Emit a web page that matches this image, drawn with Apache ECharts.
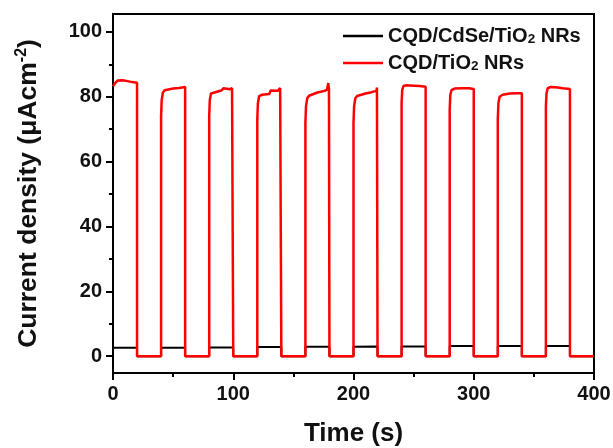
<!DOCTYPE html>
<html>
<head>
<meta charset="utf-8">
<script src="https://cdn.jsdelivr.net/npm/echarts@6/dist/echarts.min.js"></script>
<style>
  html, body { margin: 0; padding: 0; background: #fff; }
  #chart { width: 613px; height: 448px; }
</style>
</head>
<body>
<div id="chart"></div>
<script>
// series names (legend text)
var nameCdSe = 'CQD/CdSe/TiO2 NRs';
var nameTiO2 = 'CQD/TiO2 NRs';

// tick labels
var xTicks = [0, 100, 200, 300, 400];
var yTicks = [0, 20, 40, 60, 80, 100];
var yMinorTicks = [10, 30, 50, 70, 90];

// CQD/CdSe/TiO2 NRs : [time (s), current density]
var cdseData = [
  [0, 2.6], [20, 2.6], [20, 0], [40, 0],
  [40, 2.6], [60, 2.6], [60, 0], [80, 0],
  [80, 2.7], [100, 2.7], [100, 0], [120, 0],
  [120, 2.8], [140, 2.8], [140, 0], [160, 0],
  [160, 2.9], [180, 2.9], [180, 0], [200, 0],
  [200, 2.9], [220, 3.0], [220, 0], [240, 0],
  [240, 3.0], [260, 3.0], [260, 0], [280, 0],
  [280, 3.1], [300, 3.1], [300, 0], [320, 0],
  [320, 3.1], [340, 3.1], [340, 0], [360, 0],
  [360, 3.1], [380, 3.1], [380, 0], [400, 0]
];

// CQD/TiO2 NRs : [time (s), current density]
var tio2Data = [
  [0, 83.2], [2, 84.3], [4, 85.0], [8, 85.1], [12, 84.8], [16, 84.5], [20, 84.3], [20, 0],
  [40, 0], [40, 74], [40.5, 79], [41.5, 81.3], [43, 82.0], [50, 82.5], [55, 82.7], [60, 83.0], [60, 0],
  [80, 0], [80, 74], [80.5, 79], [81.5, 81.0], [83, 81.6], [90, 81.9], [92, 82.6], [93, 82.2], [97, 82.3], [99, 82.6], [100, 82.4], [100, 0],
  [120, 0], [120, 73], [120.5, 78], [121.5, 80.2], [124, 80.6], [130, 80.8], [131, 81.9], [132, 81.6], [137, 81.8], [139, 82.7], [140, 82.2], [140, 0],
  [160, 0], [160, 72], [160.5, 77], [161.5, 79.5], [163, 80.3], [170, 81.3], [176, 81.8], [178, 82.2], [179, 84.2], [179.6, 82.3], [180, 82.5], [180, 0],
  [200, 0], [200, 72], [200.5, 77], [201.5, 79.5], [203, 80.2], [210, 81.0], [215, 81.4], [219, 81.8], [219.5, 82.8], [220, 82.2], [220, 0],
  [240, 0], [240, 78], [240.5, 82], [241.5, 83.3], [244, 83.5], [250, 83.4], [255, 83.3], [260, 83.1], [260, 0],
  [280, 0], [280, 76], [280.5, 80.5], [281.5, 82.0], [284, 82.5], [290, 82.6], [296, 82.6], [300, 82.4], [300, 0],
  [320, 0], [320, 73], [320.5, 78], [321.5, 80.0], [324, 80.6], [330, 81.0], [336, 81.1], [340, 81.1], [340, 0],
  [360, 0], [360, 77], [360.5, 81], [361.5, 82.6], [364, 83.0], [368, 82.9], [374, 82.6], [380, 82.4], [380, 0],
  [400, 0]
];

var font = 'Liberation Sans';
var chart = echarts.init(document.getElementById('chart'));

var option = {
  animation: false,
  grid: {
    left: 113, right: 19, top: 14, bottom: 75,
    outerBoundsMode: 'none',
    show: true, borderColor: '#000', borderWidth: 2
  },
  legend: {
    orient: 'vertical',
    left: 338, top: 21,
    icon: 'rect',
    itemWidth: 40, itemHeight: 2.5, itemGap: 7,
    data: [nameCdSe, nameTiO2],
    formatter: function (name) {
      var parts = name.split('TiO2');
      return '{t|' + parts[0] + 'TiO}{s|2}{t|' + parts[1] + '}';
    },
    textStyle: {
      rich: {
        t: { fontFamily: font, fontWeight: 'bold', fontSize: 20, color: '#111', lineHeight: 20 },
        s: { fontFamily: font, fontWeight: 'bold', fontSize: 13.5, color: '#111', padding: [6, 0, 0, 0] }
      }
    }
  },
  xAxis: [{
    type: 'value',
    min: 0, max: 400, interval: 100,
    name: 'Time (s)',
    nameLocation: 'middle',
    nameGap: 48,
    nameTextStyle: { fontFamily: font, fontWeight: 'bold', fontSize: 26, color: '#111' },
    axisLine: { show: true, onZero: false, lineStyle: { color: '#000', width: 2 } },
    axisTick: { show: true, length: 7, lineStyle: { color: '#000', width: 2 } },
    minorTick: { show: true, splitNumber: 2, length: 4, lineStyle: { color: '#000', width: 2 } },
    axisLabel: {
      margin: 11, fontFamily: font, fontWeight: 'bold', fontSize: 20, color: '#111',
      customValues: xTicks
    },
    splitLine: { show: false }
  }],
  yAxis: [{
    type: 'value',
    min: -5.2, max: 105.5,
    name: '{t|Current density (μAcm}{p|-2}{t|)}',
    nameLocation: 'middle',
    nameGap: 70,
    nameTextStyle: {
      rich: {
        t: { fontFamily: font, fontWeight: 'bold', fontSize: 26.5, color: '#111', lineHeight: 28 },
        p: { fontFamily: font, fontWeight: 'bold', fontSize: 16, color: '#111', padding: [0, 0, 13, 0] }
      }
    },
    axisLine: { show: true, onZero: false, lineStyle: { color: '#000', width: 2 } },
    axisTick: { show: true, length: 7, customValues: yTicks, lineStyle: { color: '#000', width: 2 } },
    axisLabel: {
      margin: 11, fontFamily: font, fontWeight: 'bold', fontSize: 20, color: '#111',
      customValues: yTicks
    },
    splitLine: { show: false }
  }, {
    type: 'value',
    position: 'left',
    min: -5.2, max: 105.5,
    axisLine: { show: false },
    axisTick: { show: true, length: 4, customValues: yMinorTicks, lineStyle: { color: '#000', width: 2 } },
    axisLabel: { show: false },
    splitLine: { show: false }
  }],
  series: [{
    name: nameCdSe,
    type: 'line',
    data: cdseData,
    symbol: 'none',
    color: '#000',
    lineStyle: { color: '#000', width: 2 },
    z: 2
  }, {
    name: nameTiO2,
    type: 'line',
    data: tio2Data,
    symbol: 'none',
    color: '#ff0000',
    lineStyle: { color: '#ff0000', width: 2.5 },
    z: 3
  }]
};

chart.setOption(option);
</script>
</body>
</html>
